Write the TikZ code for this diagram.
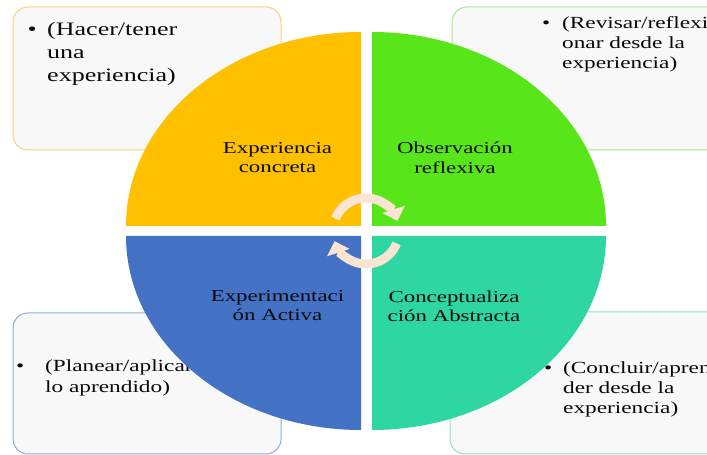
\documentclass[tikz,border=0pt]{standalone}
\usepackage{fontspec}
\setmainfont{Liberation Serif}[FakeStretch=1.37]
\usepackage{xcolor}
\usetikzlibrary{arrows.meta}

\definecolor{oro}{HTML}{FFC000}
\definecolor{verde}{HTML}{58E61A}
\definecolor{azul}{HTML}{4472C4}
\definecolor{turquesa}{HTML}{2ED6A1}
\definecolor{oroclaro}{HTML}{F2D67E}
\definecolor{verdeclaro}{HTML}{A6E98C}
\definecolor{azulclaro}{HTML}{93ACDC}
\definecolor{turquesaclaro}{HTML}{90E3C6}
\definecolor{fondo}{HTML}{F8F8F8}
\definecolor{crema}{HTML}{FBE5D2}
\definecolor{tinta}{HTML}{0A0A0A}

\newcommand\bul[1]{\makebox[#1][l]{\textbullet}}
\newcommand\sang[1]{\hspace*{#1}}

\begin{document}
\begin{tikzpicture}[x=1pt,y=1pt,
    caja/.style={rounded corners=15pt, line width=1pt, fill=fondo},
    nota/.style={anchor=north west, align=left, inner sep=0pt, text=tinta,
      font=\fontsize{17}{20.3}\selectfont},
    cuarto/.style={anchor=north, align=center, inner sep=0pt, text=tinta,
      font=\fontsize{16.7}{19.3}\selectfont},
    giro/.style={draw=crema, line width=9pt, -{Triangle[width=23pt,length=12pt]}}]
  \useasboundingbox (0,0) rectangle (707,455);
  \clip (0,0) rectangle (707,455);
  \fill[white] (0,0) rectangle (707,455);
  % cajas de fondo
  \draw[caja, draw=oroclaro] (13,305) rectangle (281,448);
  \draw[caja, draw=verdeclaro] (452,305) rectangle (740,448);
  \draw[caja, draw=azulclaro] (13,1) rectangle (281,142);
  \draw[caja, draw=turquesaclaro] (450,1) rectangle (740,143);
  \node[nota, font=\fontsize{19}{22.7}\selectfont] (hacer) at (27.5,432.4)
    {\bul{19.5pt}(Hacer/tener\\\sang{19.5pt}una\\\sang{19.5pt}experiencia)};
  \node[nota] (revisar) at (542,439)
    {\bul{20pt}(Revisar/reflexi\\\sang{20pt}onar desde la\\\sang{20pt}experiencia)};
  \node[nota] (planear) at (16,95)
    {\bul{29pt}(Planear/aplicar\\\sang{29pt}lo aprendido)};
  \node[nota] (concluir) at (544,93.7)
    {\bul{19pt}(Concluir/apren\\\sang{19pt}der desde la\\\sang{19pt}experiencia)};
  % cuadrantes
  \fill[oro] (361,229) -- (126,229) arc[start angle=180, end angle=90, x radius=235, y radius=194] -- cycle;
  \fill[verde] (372,229) -- (372,423) arc[start angle=90, end angle=0, x radius=234, y radius=194] -- cycle;
  \fill[azul] (361,219) -- (361,25) arc[start angle=270, end angle=180, x radius=235, y radius=194] -- cycle;
  \fill[turquesa] (372,219) -- (606,219) arc[start angle=0, end angle=-90, x radius=234, y radius=194] -- cycle;
  \node[cuarto] (ec) at (277.5,313.1) {Experiencia\\concreta};
  \node[cuarto] (or) at (455,313.1) {Observación\\reflexiva};
  \node[cuarto] (ea) at (277.5,164.7) {Experimentaci\\ón Activa};
  \node[cuarto] (ca) at (454,164.7) {Conceptualiza\\ción Abstracta};
  % flechas del ciclo
  \coordinate (o) at (366,224);
  \draw[giro] ([shift={(158:33)}]o) arc[start angle=158, end angle=18, radius=33];
  \draw[giro] ([shift={(-22:33)}]o) arc[start angle=-22, end angle=-162, radius=33];
\end{tikzpicture}
\end{document}
